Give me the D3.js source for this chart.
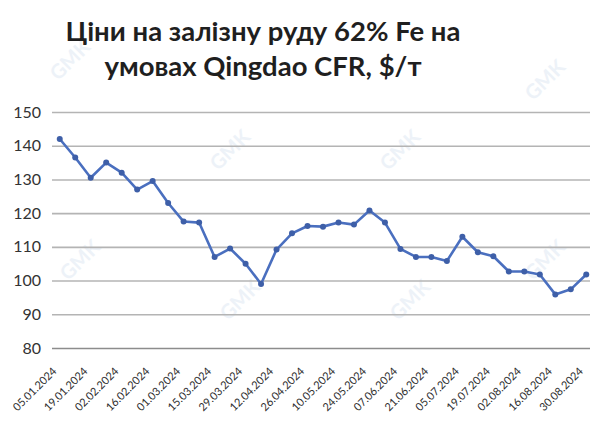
<!DOCTYPE html>
<html>
<head>
<meta charset="utf-8">
<script src="https://cdn.jsdelivr.net/npm/d3@7"></script>
<style>
  html, body { margin: 0; padding: 0; background: #fff; }
  svg { display: block; }
</style>
</head>
<body>
<svg id="chart" width="590" height="441"></svg>
<script>
// Weekly iron ore price, 62% Fe, CFR Qingdao ($/t)
const dates = [
  "05.01.2024","12.01.2024","19.01.2024","26.01.2024","02.02.2024","09.02.2024",
  "16.02.2024","23.02.2024","01.03.2024","08.03.2024","15.03.2024","22.03.2024",
  "29.03.2024","05.04.2024","12.04.2024","19.04.2024","26.04.2024","03.05.2024",
  "10.05.2024","17.05.2024","24.05.2024","31.05.2024","07.06.2024","14.06.2024",
  "21.06.2024","28.06.2024","05.07.2024","12.07.2024","19.07.2024","26.07.2024",
  "02.08.2024","09.08.2024","16.08.2024","23.08.2024","30.08.2024"
];
const prices = [
  142, 136.5, 130.5, 135, 132, 127, 129.5, 123, 117.5, 117.2,
  107, 109.5, 105, 99, 109.2, 114, 116.2, 116, 117.2, 116.6,
  120.8, 117.2, 109.4, 107, 107, 105.8, 113, 108.4, 107.2, 102.7,
  102.7, 101.8, 95.9, 97.4, 101.8
];
const yTicks = [80, 90, 100, 110, 120, 130, 140, 150];
const titleLines = ["Ціни на залізну руду 62% Fe на", "умовах Qingdao CFR, $/т"];

const svg = d3.select("#chart");
const W = 590, H = 441;
const margin = { left: 52, right: -4, top: 112, bottom: 93 };

const x = d3.scalePoint()
  .domain(dates)
  .range([margin.left, W - margin.right])
  .padding(0.5);
const y = d3.scaleLinear()
  .domain([80, 150])
  .range([H - margin.bottom, margin.top]);

// faint background watermark
const wm = svg.append("g").attr("fill", "#edf2f8");
const wmPos = [[70, 60], [230, 150], [400, 150], [545, 80], [80, 260], [240, 300], [410, 300], [545, 260]];
wmPos.forEach(([cx, cy]) => {
  wm.append("text")
    .attr("transform", `translate(${cx},${cy}) rotate(-45)`)
    .attr("text-anchor", "middle")
    .attr("dy", "0.35em")
    .style("font-family", "Lato, sans-serif")
    .style("font-weight", 700)
    .style("font-size", "20px")
    .text("GMK");
});

// title
svg.append("g")
  .selectAll("text")
  .data(titleLines)
  .join("text")
  .attr("x", 263)
  .attr("y", (d, i) => 41 + i * 35)
  .attr("text-anchor", "middle")
  .attr("fill", "#1f1f1f")
  .style("font-family", "Lato, sans-serif")
  .style("font-weight", 700)
  .style("font-size", "27.5px")
  .text(d => d);

// horizontal grid
const grid = svg.append("g")
  .attr("transform", `translate(${margin.left},0)`)
  .call(d3.axisLeft(y).tickValues(yTicks).tickSize(-(W - margin.left)).tickFormat(""));
grid.select(".domain").remove();
grid.selectAll(".tick line")
  .attr("stroke", d => d === 80 ? "#8c8c8c" : "#b4b4b4")
  .attr("stroke-width", 1.6);

// y labels
const yAxis = svg.append("g")
  .attr("transform", `translate(${margin.left},0)`)
  .call(d3.axisLeft(y).tickValues(yTicks).tickSize(0).tickPadding(11));
yAxis.select(".domain").remove();
yAxis.selectAll("text")
  .attr("fill", "#333")
  .style("font-family", "Lato, sans-serif")
  .style("font-size", "16px");

// x labels, every second week
const xAxis = svg.append("g")
  .attr("transform", `translate(0,${H - margin.bottom})`)
  .call(d3.axisBottom(x).tickValues(dates.filter((d, i) => i % 2 === 0)).tickSize(0).tickPadding(0));
xAxis.select(".domain").remove();
xAxis.selectAll("text")
  .attr("text-anchor", "end")
  .attr("dy", "0")
  .attr("transform", "translate(-3,24) rotate(-45)")
  .attr("fill", "#2e2e2e")
  .style("font-family", "Lato, sans-serif")
  .style("font-size", "11px");

// price line
const data = dates.map((d, i) => ({ date: d, value: prices[i] }));
svg.append("path")
  .datum(data)
  .attr("fill", "none")
  .attr("stroke", "#4a6fbf")
  .attr("stroke-width", 2.6)
  .attr("stroke-linejoin", "round")
  .attr("d", d3.line().x(d => x(d.date)).y(d => y(d.value)));

svg.append("g")
  .selectAll("circle")
  .data(data)
  .join("circle")
  .attr("cx", d => x(d.date))
  .attr("cy", d => y(d.value))
  .attr("r", 3)
  .attr("fill", "#3e5fa8");
</script>
</body>
</html>
